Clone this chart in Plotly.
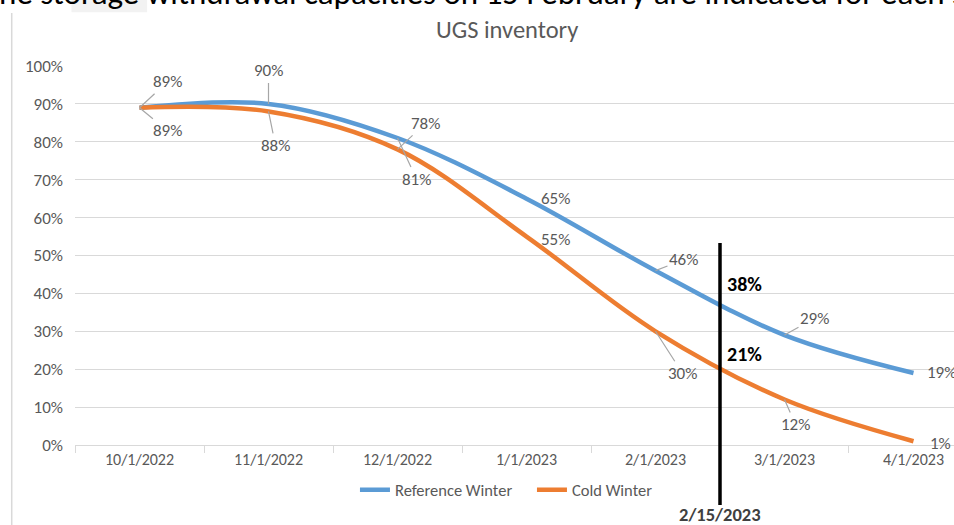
import plotly.graph_objects as go

# data
months = ["10/1/2022", "11/1/2022", "12/1/2022", "1/1/2023", "2/1/2023", "3/1/2023", "4/1/2023"]
reference_winter = [0.89, 0.90, 0.81, 0.65, 0.46, 0.29, 0.19]
cold_winter = [0.89, 0.88, 0.78, 0.55, 0.30, 0.12, 0.01]

# marker date 2/15/2023 = halfway through February (index of 2/1/2023 + 14/28)
marker_label = "2/15/2023"
marker_pos = months.index("2/1/2023") + 14 / 28
marker_ref = 0.38
marker_cold = 0.21

BLUE = "#5B9BD5"
ORANGE = "#ED7D31"
GRAY = "#595959"
FONT = "Carlito, Calibri, Lato, sans-serif"

# label offsets (text centre relative to point, px) and whether a leader line is drawn
ref_offsets = [(28, -26, True), (0, -33, True), (19, 41, True), (29, 0, False),
               (28, -11, True), (30, -17, True), (28, 0, False)]
cold_offsets = [(28, 23, True), (7, 34, True), (28, -26, True), (29, 3, False),
                (27, 42, True), (11, 25, True), (27, 2, False)]

fig = go.Figure()
fig.add_trace(go.Scatter(x=months, y=reference_winter, name="Reference Winter", mode="lines",
                         line=dict(color=BLUE, width=4.5, shape="spline", smoothing=1)))
fig.add_trace(go.Scatter(x=months, y=cold_winter, name="Cold Winter", mode="lines",
                         line=dict(color=ORANGE, width=4.5, shape="spline", smoothing=1)))

annotations = []
for values, offsets in ((reference_winter, ref_offsets), (cold_winter, cold_offsets)):
    for m, v, (ax, ay, leader) in zip(months, values, offsets):
        a = dict(x=m, y=v, text=f"{round(v * 100)}%", font=dict(family=FONT, size=17, color=GRAY))
        if leader:
            a.update(showarrow=True, arrowhead=0, arrowwidth=1.2, arrowcolor="#a6a6a6",
                     ax=ax, ay=ay, standoff=0)
        else:
            a.update(showarrow=False, xshift=ax, yshift=-ay)
        annotations.append(a)

# bold values at the marker date
for v, dy in ((marker_ref, 17), (marker_cold, 11)):
    annotations.append(dict(x=marker_pos, y=v, text=f"<b>{round(v * 100)}%</b>", showarrow=False,
                            xanchor="left", xshift=5, yshift=dy,
                            font=dict(family=FONT, size=20, color="black")))
annotations.append(dict(x=marker_pos, xref="x", y=0, yref="paper", text=f"<b>{marker_label}</b>",
                        showarrow=False, yanchor="middle", yshift=-69,
                        font=dict(family=FONT, size=18.5, color="#404040")))

# chart title and the cut-off page text above
annotations.append(dict(xref="paper", yref="paper", x=0.4915, y=1, yshift=36, text="UGS inventory",
                        showarrow=False, yanchor="middle", font=dict(family=FONT, size=24.5, color=GRAY)))
annotations.append(dict(xref="paper", yref="paper", x=0, y=1, xanchor="left", yanchor="middle",
                        xshift=-94, yshift=73, showarrow=False,
                        text="The storage withdrawal capacities on 15 February are indicated for each scenario",
                        font=dict(family=FONT, size=33, color="black")))

shapes = [
    dict(type="line", xref="x", yref="paper", x0=marker_pos, x1=marker_pos, y0=-0.158, y1=0.533,
         line=dict(color="black", width=3.5)),
    dict(type="line", xref="paper", yref="paper", x0=-0.072, x1=-0.072, y0=-0.25, y1=1.14,
         line=dict(color="#d9d9d9", width=1.5)),
    dict(type="rect", xref="paper", yref="paper", x0=-0.004, x1=0.082, y0=1.142, y1=1.2,
         line=dict(width=0), fillcolor="#f2f2f2", layer="below"),
]

fig.update_layout(
    width=954, height=525,
    margin=dict(l=75, r=0, t=66, b=80),
    paper_bgcolor="white", plot_bgcolor="white",
    showlegend=True,
    legend=dict(orientation="h", x=0.3185, xanchor="left", y=-0.119, yanchor="middle",
                bgcolor="rgba(0,0,0,0)",
                font=dict(family=FONT, size=16.5, color=GRAY), itemwidth=30,
                entrywidth=132, entrywidthmode="pixels"),
    annotations=annotations,
    shapes=shapes,
)
fig.update_xaxes(type="category", range=[-0.5, 6.314], tickson="boundaries", ticks="outside",
                 ticklen=7, tickcolor="#d9d9d9", showline=True, linecolor="#d9d9d9", linewidth=1,
                 showgrid=False, tickfont=dict(family=FONT, size=16, color=GRAY))
fig.update_yaxes(range=[0, 1], dtick=0.1, tickformat=".0%", showgrid=True, gridcolor="#d9d9d9",
                 zeroline=False, ticks="", ticklabelstandoff=11,
                 tickfont=dict(family=FONT, size=17, color=GRAY))

# the page body has an 8px default margin; drop it so the figure sits at the window corner
fig.write_html("out.html", config={"displayModeBar": False},
               post_script="document.body.style.margin = '0px';")
